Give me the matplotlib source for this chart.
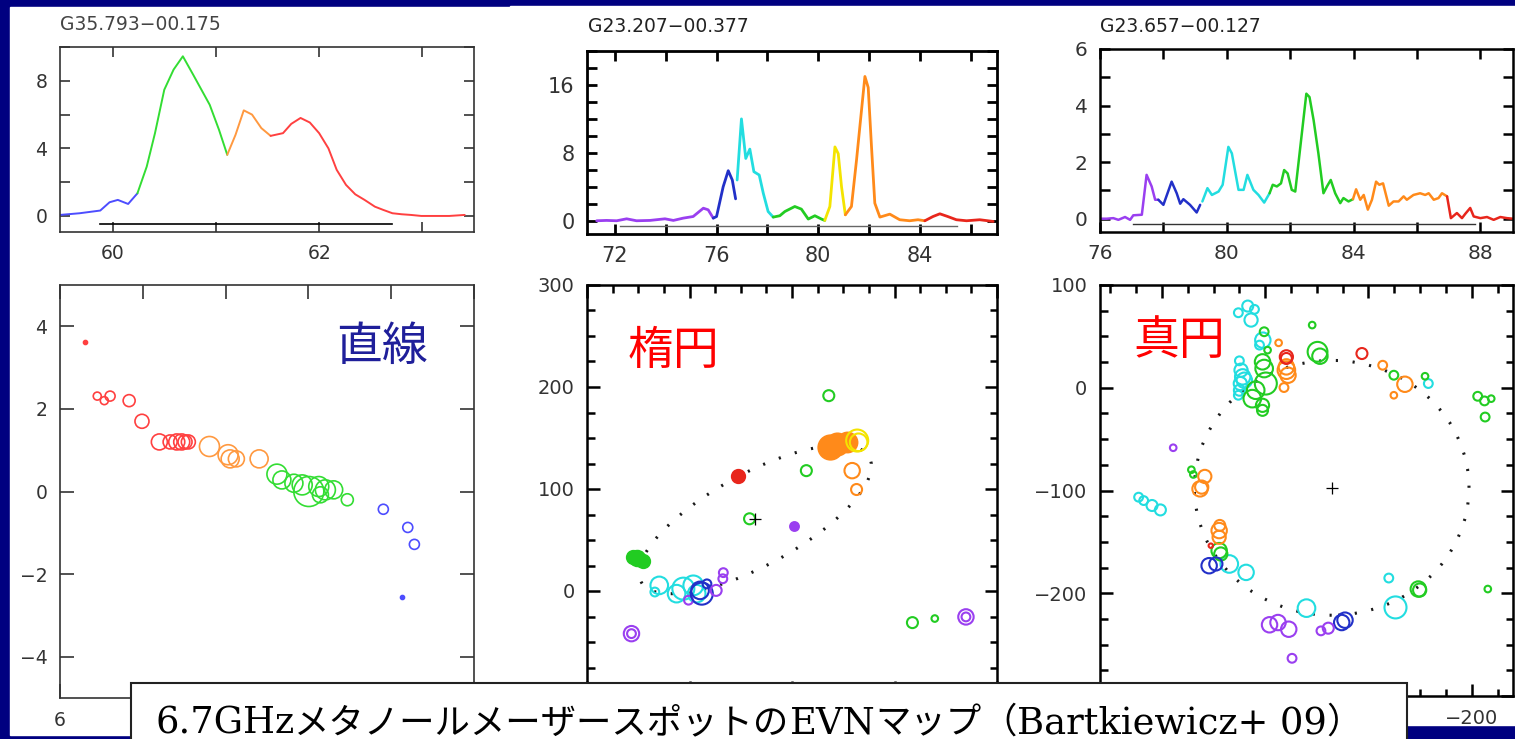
import matplotlib
matplotlib.use("Agg")
import matplotlib.pyplot as plt
from matplotlib.patches import Rectangle, Ellipse
from matplotlib.ticker import MultipleLocator, FuncFormatter, NullFormatter

W, H = 1515, 739
NAVY = "#000080"

# ---- spectra (velocity km/s, flux Jy) ----
tl_name = "G35.793\u221200.175"
tl_vel = [59.49, 59.68, 59.88, 59.97, 60.05, 60.15, 60.24, 60.33, 60.41, 60.50,
          60.59, 60.68, 60.78, 60.86, 60.94, 61.03, 61.11, 61.19, 61.27, 61.35,
          61.44, 61.53, 61.65, 61.73, 61.82, 61.91, 62.00, 62.09, 62.17, 62.26,
          62.35, 62.44, 62.54, 62.62, 62.71, 62.80, 62.89, 62.99, 63.10, 63.26, 63.41]
tl_flux = [0.06, 0.16, 0.32, 0.81, 0.95, 0.71, 1.34, 2.92, 4.9, 7.47,
           8.66, 9.45, 8.36, 7.47, 6.58, 5.1, 3.62, 4.8, 6.25, 6.0,
           5.2, 4.74, 4.9, 5.45, 5.8, 5.53, 4.9, 4.0, 2.73, 1.84,
           1.28, 0.95, 0.55, 0.36, 0.16, 0.1, 0.06, 0.0, 0.0, 0.0, 0.06]
tl_bands = [(59.49, 60.24, "b"), (60.24, 61.11, "g"), (61.11, 61.53, "o"), (61.53, 63.41, "r")]
tl_range = (59.88, 62.71)

tm_name = "G23.207\u221200.377"
tm_vel = [71.28, 71.67, 72.07, 72.46, 72.85, 73.38, 73.97, 74.30, 74.69, 75.08,
          75.48, 75.67, 75.87, 76.00, 76.26, 76.46, 76.62, 76.75, 76.81, 76.98,
          77.15, 77.31, 77.47, 77.68, 77.84, 78.03, 78.23, 78.49, 78.69, 79.08,
          79.34, 79.61, 79.87, 80.13, 80.26, 80.46, 80.66, 80.79, 80.92, 81.07,
          81.31, 81.51, 81.64, 81.84, 81.97, 82.10, 82.23, 82.43, 82.82, 83.21,
          83.60, 83.93, 84.20, 84.52, 84.79, 85.10, 85.44, 85.84, 86.36, 86.89]
tm_flux = [0, 0.04, 0, 0.23, 0, 0.04, 0.23, 0.04, 0.31, 0.5,
           1.48, 1.29, 0.31, 0.5, 4.0, 5.9, 4.8, 2.58, 4.8, 12.0,
           7.34, 8.44, 5.78, 5.39, 3.24, 1.09, 0.43, 0.59, 1.09, 1.68,
           1.37, 0.2, 0.59, 0.2, 0.04, 1.68, 8.7, 7.9, 4.0, 0.7,
           1.68, 7.15, 11.05, 17.0, 15.7, 8.7, 2.07, 0.43, 0.78, 0.12,
           0, 0.12, 0, 0.5, 0.82, 0.5, 0.12, 0, 0.12, -0.08]
tm_bands = [(71.28, 75.87, "p"), (75.87, 76.75, "b"), (76.81, 78.23, "c"), (78.23, 80.26, "g"),
            (80.26, 81.07, "y"), (81.07, 84.20, "o"), (84.20, 86.89, "r")]
tm_range = (72.2, 85.45)

tr_name = "G23.657\u221200.127"
tr_vel = [76.0, 76.21, 76.42, 76.58, 76.79, 76.95, 77.05, 77.32, 77.47, 77.63,
          77.74, 77.84, 78.0, 78.26, 78.42, 78.53, 78.63, 78.84, 79.05, 79.16,
          79.23, 79.39, 79.53, 79.74, 79.87, 80.05, 80.16, 80.37, 80.53, 80.65,
          80.84, 81.0, 81.18, 81.35, 81.45, 81.58, 81.71, 81.81, 81.92, 82.05,
          82.16, 82.32, 82.51, 82.61, 82.74, 82.89, 83.05, 83.16, 83.28, 83.42,
          83.58, 83.68, 83.84, 83.98, 84.08, 84.21, 84.32, 84.45, 84.58, 84.71,
          84.81, 84.93, 85.11, 85.26, 85.42, 85.58, 85.68, 85.89, 86.1, 86.26,
          86.37, 86.53, 86.68, 86.79, 86.95, 87.07, 87.26, 87.42, 87.53, 87.68,
          87.79, 88.0, 88.21, 88.42, 88.63, 88.84, 89.03]
tr_flux = [0, 0, 0.02, -0.04, 0.06, -0.04, 0.12, 0.14, 1.55, 1.14,
           0.67, 0.67, 0.49, 1.31, 0.9, 0.53, 0.69, 0.49, 0.22, 0.49,
           0.61, 1.08, 0.84, 0.96, 1.2, 2.54, 2.31, 1.02, 1.02, 1.55,
           1.02, 0.84, 0.57, 0.9, 1.2, 1.14, 1.25, 1.72, 1.6, 1.02,
           0.96, 2.54, 4.42, 4.3, 3.48, 2.31, 0.9, 1.14, 1.37, 0.9,
           0.55, 0.73, 0.61, 0.69, 1.04, 0.67, 0.84, 0.32, 0.67, 1.31,
           1.2, 1.25, 0.46, 0.61, 0.61, 0.79, 0.67, 0.84, 0.9, 0.84,
           0.9, 0.67, 0.73, 0.9, 0.79, 0.02, 0.2, 0.02, 0.18, 0.38,
           0.08, 0.02, 0.06, -0.04, 0.06, 0.02, 0]
tr_bands = [(76.0, 77.84, "p"), (77.84, 79.16, "b"), (79.23, 81.35, "c"), (81.35, 83.98, "g"),
            (83.98, 86.95, "o"), (86.95, 89.03, "r")]
tr_range = (77.03, 87.84)

# ---- spot maps: offsets, spot radius (px), colour ----
bl_x = [5.39, 5.10, 4.93, 4.79, 4.33, 4.02, 3.60, 3.34, 3.18, 3.06, 2.98, 2.90,
        2.39, 1.94, 1.89, 1.74, 1.19,
        0.76, 0.64, 0.35, 0.15, -0.01, -0.25, -0.29, -0.41, -0.61, -0.94,
        -1.81, -2.40, -2.56, -2.27]
bl_y = [3.61, 2.31, 2.20, 2.31, 2.20, 1.70, 1.20, 1.20, 1.20, 1.20, 1.20, 1.20,
        1.09, 0.89, 0.79, 0.79, 0.79,
        0.42, 0.28, 0.20, 0.16, 0.0, 0.12, -0.08, 0.04, 0.04, -0.20,
        -0.43, -0.87, -1.28, -2.55]
bl_r = [2, 4, 4, 5, 6, 7, 8, 7, 8, 8, 7, 7,
        10, 10, 9, 8, 9,
        10, 9, 9, 10, 15, 10, 8, 10, 9, 6,
        5, 5, 5, 2]
bl_c = ["r"] * 12 + ["o"] * 5 + ["g"] * 10 + ["b"] * 4
bl_fill = [1] + [0] * 29 + [1]

bm_x = [151.7, 155.0, 145.2, 129.5, 133.8, 112.6, 106.0, 96.3, 93.0, 101.0, 88.0, 89.7, 83.0,
        74.0, 67.5, 67.0, 156.6, 156.6, 52.2, 41.4, -14.0, -35.9, -1.6, -37.5, -44.0, -53.8,
        -63.6, -65.0, -58.7, -63.0, -117.5, -139.3, -169.7, -169.7]
bm_y = [32.3, 33.3, 29.0, 5.5, -1.0, -2.6, 2.3, 5.5, -2.6, -9.0, -2.6, 0.6, 7.0,
        0.6, 12.0, 18.0, -41.8, -41.8, 112.6, 70.8, 118.0, 191.5, 64.0, 141.0, 144.0, 146.0,
        147.5, 145.8, 118.0, 99.5, -31.0, -27.0, -25.4, -25.4]
bm_r = [7, 6, 6, 8, 4, 8, 10, 9, 8, 4, 10, 8, 4,
        5, 4, 4, 7, 4, 6, 5, 5, 5, 4, 11, 10, 9,
        10, 8, 7, 5, 5, 3, 7, 4]
bm_c = ["g", "g", "g", "c", "c", "c", "c", "c", "c", "p", "b", "b", "b",
        "p", "p", "p", "p", "p", "r", "g", "g", "g", "p", "o", "o", "o",
        "y", "y", "o", "o", "g", "g", "p", "p"]
bm_fill = [1, 1, 1, 0, 0, 0, 0, 0, 0, 0, 0, 0, 0,
           0, 0, 0, 0, 0, 1, 0, 0, 0, 1, 1, 1, 1,
           0, 0, 0, 0, 0, 0, 0, 0]

br_x = [26, 16.9, 13.7, 10.4, 2.3, 5.5, 25, 23.4, 21.8, 24.1, 25, 26, 20.2,
        122.6, 117.7, 109.6, 101.5, 34.8, 18.5, -40, -126.2, -119.7, -158,
        1, -2.3, 1, 2.6, -0.6, 9.2, 12.5, 2.6, 2.6, -50.7, -53, -45.5, -124.6,
        -154.8, -205.8, -212.4, -218.9, -213, -215.6, 71.5, 69.6, 44.6, 43, -148.3, -149.6,
        -20.5, -20.5, -22.1, -18.2, -13, -113.8, -124.6, -135.3, 58.5, 63.1, 61.5,
        44.6, 44, 44.6,
        -20.5, -20.5, -93.7, 52.7,
        54.3, 47.8, -74.1, -77.3,
        89.1, -4.2, -12.4, -22.8, -54, -61.1, -26]
br_y = [73, 79.5, 65.9, 76.3, 46.3, 41.5, 26.2, 17.1, 10.6, 4.1, -2.4, -7.3, 7.3,
        -106.5, -109.8, -114.6, -118.9, -171.5, -179.7, -214.5, -213.8, -185.2, 4.1,
        54.5, 36.6, 18.7, 25.2, 4.1, -2.4, -10.6, -17.1, -22, 35, 30.7, 61, 12.2,
        11.2, -8.3, -12.8, -10.6, -28.5, -195.9, -79.8, -84.4, -158.5, -161.8, -195.9, -196.9,
        17.1, 20.3, 12.2, 0.2, 43.7, 21.9, -7.3, 3.4, -86.3, -98.4, -96.7,
        -139, -134, -145.5,
        30.1, 28.5, 33.3, -153.7,
        -173.2, -171.5, -228.5, -226.2,
        -58.4, -230.7, -228.5, -235, -236.6, -234, -263.3]
br_r = [4, 5, 6, 4, 7, 4, 4, 6, 7, 6, 5, 4, 7,
        4, 4, 5, 5, 8, 7, 8, 10, 4, 4,
        4, 3, 8, 7, 10, 8, 8, 6, 5, 9, 7, 3, 4,
        3, 4, 4, 3, 4, 3, 3, 3, 7, 6, 7, 6,
        8, 7, 7, 4, 3, 4, 3, 7, 6, 7, 6,
        7, 5, 6,
        6, 5, 5, 2,
        7, 6, 7, 7,
        3, 7, 7, 7, 4, 5, 4]
br_c = (["c"] * 23 + ["g"] * 25 + ["o"] * 14 + ["r"] * 4 + ["b"] * 4 + ["p"] * 7)

# fitted rings: centre x, centre y, semi-axes a, b, angle (deg)
bm_ring = (35.9, 70.1, 127, 45, 151.2)
br_ring = (-64.4, -97.4, 133, 124, 0)

left_colors = {"r": "#ff4040", "o": "#ff9940", "g": "#33dd33", "b": "#4d4dff"}
colors = {"p": "#9a3ff0", "b": "#2230c8", "c": "#22dde0", "g": "#22cc22",
          "y": "#f4e400", "o": "#ff8a1a", "r": "#e8261c"}

caption_parts = ["6.7GHz", "メタノールメーザースポットの", "EVN", "マップ", "（",
                 "Bartkiewicz+ 09", "）"]

SANS = ["DejaVu Sans"]
SERIF = ["DejaVu Serif"]
JP = ["Noto Sans CJK JP", "DejaVu Sans"]


def rect(l, t, r, b):
    return [l / W, 1 - b / H, (r - l) / W, (b - t) / H]


def every(step, shown=None):
    def fmt(v, pos):
        if abs(v / step - round(v / step)) > 1e-6:
            return ""
        if shown is not None and round(v) not in shown:
            return ""
        return f"{v:g}".replace("-", "\u2212")
    return FuncFormatter(fmt)


def frame(ax, lw, col, size=13, length=7):
    for s in ax.spines.values():
        s.set_linewidth(lw)
        s.set_color(col)
    ax.tick_params(which="both", direction="in", top=True, right=True,
                   width=lw, color=col, labelsize=size, labelcolor="#333333", pad=9)
    ax.tick_params(which="major", length=length)
    ax.tick_params(which="minor", length=length * 0.6)
    for lab in ax.get_xticklabels() + ax.get_yticklabels():
        lab.set_family(SANS)


def spectrum(ax, vel, flux, bands, pal, lw):
    for lo, hi, c in bands:
        xs = [v for v in vel if lo - 1e-6 <= v <= hi + 1e-6]
        ys = [f for v, f in zip(vel, flux) if lo - 1e-6 <= v <= hi + 1e-6]
        ax.plot(xs, ys, color=pal[c], lw=lw, solid_joinstyle="round", solid_capstyle="round")


def spots(ax, xs, ys, rs, cs, pal, fills=None, lw=1.0, scale=1.0):
    if fills is None:
        fills = [0] * len(xs)
    for x, y, r, c, f in zip(xs, ys, rs, cs, fills):
        d = 2 * r * scale * 0.72
        ax.scatter([x], [y], s=d * d, facecolors=pal[c] if f else "none",
                   edgecolors=pal[c], linewidths=lw, zorder=3)


fig = plt.figure(figsize=(W / 100, H / 100), dpi=100, facecolor=NAVY)

# white slide areas
fig.patches.append(Rectangle((10 / W, 1 - 735 / H), 500 / W, 728 / H,
                             transform=fig.transFigure, color="white", zorder=-5))
fig.patches.append(Rectangle((510 / W, 1 - 725 / H), 1005 / W, 719 / H,
                             transform=fig.transFigure, color="white", zorder=-5))

# top row: spectra
ax = fig.add_axes(rect(60, 47, 474, 232))
spectrum(ax, tl_vel, tl_flux, tl_bands, left_colors, 1.4)
ax.plot(tl_range, [-0.47, -0.47], color="black", lw=1.2)
ax.set_xlim(59.49, 63.5)
ax.set_ylim(-0.95, 10)
ax.xaxis.set_major_locator(MultipleLocator(1))
ax.xaxis.set_major_formatter(every(2))
ax.yaxis.set_major_locator(MultipleLocator(2))
ax.yaxis.set_major_formatter(every(4))
frame(ax, 1.2, "#333333", size=13.5)
fig.text(60 / W, 1 - 25 / H, tl_name, family=SANS, fontsize=13.5, color="#444444", va="center")

ax = fig.add_axes(rect(587, 51, 997, 234))
spectrum(ax, tm_vel, tm_flux, tm_bands, colors, 2.0)
ax.plot(tm_range, [-0.66, -0.66], color="#666666", lw=1.0)
ax.set_xlim(70.9, 87.04)
ax.set_ylim(-1.56, 20)
ax.xaxis.set_major_locator(MultipleLocator(2))
ax.xaxis.set_major_formatter(every(4))
ax.yaxis.set_major_locator(MultipleLocator(2))
ax.yaxis.set_major_formatter(every(8))
frame(ax, 2.0, "black", size=15)
fig.text(588 / W, 1 - 27 / H, tm_name, family=SANS, fontsize=13.5, color="#222222", va="center")

ax = fig.add_axes(rect(1100, 49, 1513, 232))
spectrum(ax, tr_vel, tr_flux, tr_bands, colors, 1.8)
ax.plot(tr_range, [-0.19, -0.19], color="#333333", lw=1.0)
ax.set_xlim(76, 89.03)
ax.set_ylim(-0.47, 6.0)
ax.xaxis.set_major_locator(MultipleLocator(2))
ax.xaxis.set_major_formatter(every(4))
ax.yaxis.set_major_locator(MultipleLocator(1))
ax.yaxis.set_major_formatter(every(2))
frame(ax, 1.8, "black", size=14.5)
fig.text(1100 / W, 1 - 26 / H, tr_name, family=SANS, fontsize=13.5, color="#222222", va="center")

# bottom row: spot maps
ax = fig.add_axes(rect(60, 285, 474, 698))
spots(ax, bl_x, bl_y, bl_r, bl_c, left_colors, bl_fill, lw=1.2)
ax.set_xlim(6, -4)
ax.set_ylim(-5, 5)
ax.xaxis.set_major_locator(MultipleLocator(2))
ax.yaxis.set_major_locator(MultipleLocator(2))
ax.xaxis.set_major_formatter(every(2, shown={6}))
ax.yaxis.set_major_formatter(every(2))
frame(ax, 1.2, "#333333", size=13.5, length=10)
fig.text(382 / W, 1 - 347 / H, "直線", family=JP, fontsize=33, color="#1f1f9a",
         ha="center", va="center")

for rc, xs, ys, rs, cs, fl, xl, yl, xshow, yshow, ring, word, wpos in [
        ((587, 285, 997, 693), bm_x, bm_y, bm_r, bm_c, bm_fill, (200, -200), (-100, 300),
         set(), {0, 100, 200, 300}, bm_ring, "楕円", (673, 351)),
        ((1100, 285, 1513, 696), br_x, br_y, br_r, br_c, None, (160, -240), (-300, 100),
         {-200}, {100, 0, -100, -200}, br_ring, "真円", (1179, 341))]:
    ax = fig.add_axes(rect(*rc))
    cx, cy, a, b, ang = ring
    ax.add_patch(Ellipse((cx, cy), 2 * a, 2 * b, angle=ang, fill=False, edgecolor="#1a1a1a",
                         lw=2.2, linestyle=(0, (0.7, 4.8)), zorder=2))
    spots(ax, xs, ys, rs, cs, colors, fl, lw=1.5, scale=1.1)
    ax.plot([cx], [cy], marker="+", color="black", ms=9, mew=0.9, zorder=4)
    ax.set_xlim(*xl)
    ax.set_ylim(*yl)
    ax.xaxis.set_major_locator(MultipleLocator(100))
    ax.xaxis.set_minor_locator(MultipleLocator(25))
    ax.yaxis.set_major_locator(MultipleLocator(100))
    ax.yaxis.set_minor_locator(MultipleLocator(25))
    ax.xaxis.set_minor_formatter(NullFormatter())
    ax.yaxis.set_minor_formatter(NullFormatter())
    ax.xaxis.set_major_formatter(every(100, shown=xshow))
    ax.yaxis.set_major_formatter(every(100, shown=yshow))
    frame(ax, 1.8, "black", size=14, length=9)
    fig.text(wpos[0] / W, 1 - wpos[1] / H, word, family=JP, fontsize=33, color="red",
             ha="center", va="center")

# caption box; latin runs in serif, kana in gothic
fig.patches.append(Rectangle((131 / W, -0.02), (1407 - 131) / W, (739 - 683) / H + 0.02,
                             transform=fig.transFigure, facecolor="white",
                             edgecolor="#222222", lw=1.5, zorder=5))
renderer = fig.canvas.get_renderer()
x = 155 / W
for part in caption_parts:
    jp = any(ord(ch) > 0x2000 for ch in part)
    t = fig.text(x, 1 - 733 / H, part, family=JP if jp else SERIF,
                 fontsize=25.5 if jp else 26.5, color="black", va="baseline", zorder=6)
    x += t.get_window_extent(renderer).width / W

fig.savefig("out.png", dpi=100, facecolor=NAVY)
